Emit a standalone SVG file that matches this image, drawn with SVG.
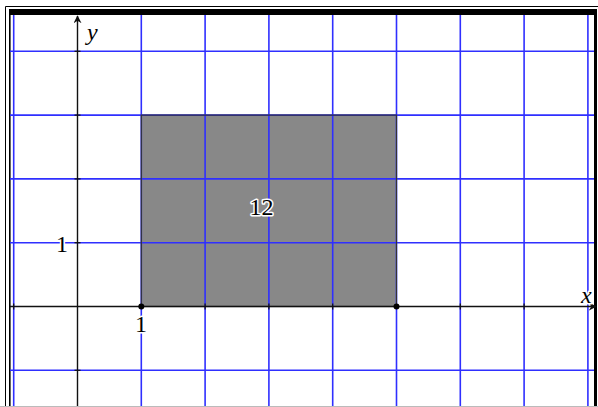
<svg xmlns="http://www.w3.org/2000/svg" width="598" height="407" viewBox="0 0 598 407">
<defs>
<style>
.grid line{stroke:#2f2fff;stroke-width:1.6;}
.axis{stroke:#111;stroke-width:1.4;fill:none;}
.tick{stroke:#111;stroke-width:1.2;}
.lbl{font-family:"Liberation Serif","Times New Roman",serif;font-size:24px;fill:#000;stroke:#fff;stroke-width:3px;paint-order:stroke;stroke-linejoin:round;}
.it{font-style:italic;}
</style>
<marker id="arr" viewBox="0 0 10 10" refX="9" refY="5" markerWidth="8" markerHeight="8" markerUnits="userSpaceOnUse" orient="auto">
<path d="M0,0 L10,5 L0,10 L3,5 Z" fill="#111"/>
</marker>
</defs>
<rect x="0" y="0" width="598" height="407" fill="#fff"/>
<g id="frame">
<path d="M5.5,407 V6.5 H598" fill="none" stroke="#000" stroke-width="1"/>
<rect x="9" y="9" width="588" height="6" fill="#000"/>
<rect x="9" y="9" width="1.6" height="398" fill="#000"/>
<rect x="594" y="9" width="3" height="398" fill="#000"/>
<line x1="0" y1="406.5" x2="598" y2="406.5" stroke="#bbb" stroke-width="1"/>
</g>
<g id="area">
<rect x="141.3" y="115.1" width="255.2" height="191.4" fill="#888888"/>
</g>
<g class="grid" id="grid">
<line x1="13.7" y1="15" x2="13.7" y2="406"/>
<line x1="141.3" y1="15" x2="141.3" y2="406"/>
<line x1="205.1" y1="15" x2="205.1" y2="406"/>
<line x1="268.9" y1="15" x2="268.9" y2="406"/>
<line x1="332.7" y1="15" x2="332.7" y2="406"/>
<line x1="396.5" y1="15" x2="396.5" y2="406"/>
<line x1="460.3" y1="15" x2="460.3" y2="406"/>
<line x1="524.1" y1="15" x2="524.1" y2="406"/>
<line x1="587.9" y1="15" x2="587.9" y2="406"/>
<line x1="10" y1="51.3" x2="594" y2="51.3"/>
<line x1="10" y1="115.1" x2="594" y2="115.1"/>
<line x1="10" y1="178.9" x2="594" y2="178.9"/>
<line x1="10" y1="242.7" x2="594" y2="242.7"/>
<line x1="10" y1="370.3" x2="594" y2="370.3"/>
</g>
<g id="rect-outline">
<rect x="141.3" y="115.1" width="255.2" height="191.4" fill="none" stroke="#333" stroke-width="1.2"/>
</g>
<g id="connectors">
<line class="axis" x1="10" y1="306.5" x2="596" y2="306.5" marker-end="url(#arr)"/>
<line class="axis" x1="77.5" y1="406" x2="77.5" y2="16" marker-end="url(#arr)"/>
<g class="tick">
<line x1="74.5" y1="51.3" x2="80.5" y2="51.3"/>
<line x1="74.5" y1="115.1" x2="80.5" y2="115.1"/>
<line x1="74.5" y1="178.9" x2="80.5" y2="178.9"/>
<line x1="74.5" y1="242.7" x2="80.5" y2="242.7"/>
<line x1="74.5" y1="370.3" x2="80.5" y2="370.3"/>
<line x1="13.7" y1="303.5" x2="13.7" y2="309.5"/>
<line x1="205.1" y1="303.5" x2="205.1" y2="309.5"/>
<line x1="268.9" y1="303.5" x2="268.9" y2="309.5"/>
<line x1="332.7" y1="303.5" x2="332.7" y2="309.5"/>
<line x1="460.3" y1="303.5" x2="460.3" y2="309.5"/>
<line x1="524.1" y1="303.5" x2="524.1" y2="309.5"/>
</g>
</g>
<g id="points">
<circle cx="141.3" cy="306.5" r="3" fill="#000"/>
<circle cx="396.5" cy="306.5" r="3" fill="#000"/>
</g>
<g id="labels">
<text class="lbl it" x="87" y="40">y</text>
<text class="lbl it" x="581" y="303">x</text>
<text class="lbl" x="62" y="252" text-anchor="middle">1</text>
<text class="lbl" x="141" y="332" text-anchor="middle">1</text>
<text class="lbl" x="261.5" y="215" text-anchor="middle">12</text>
</g>
</svg>
